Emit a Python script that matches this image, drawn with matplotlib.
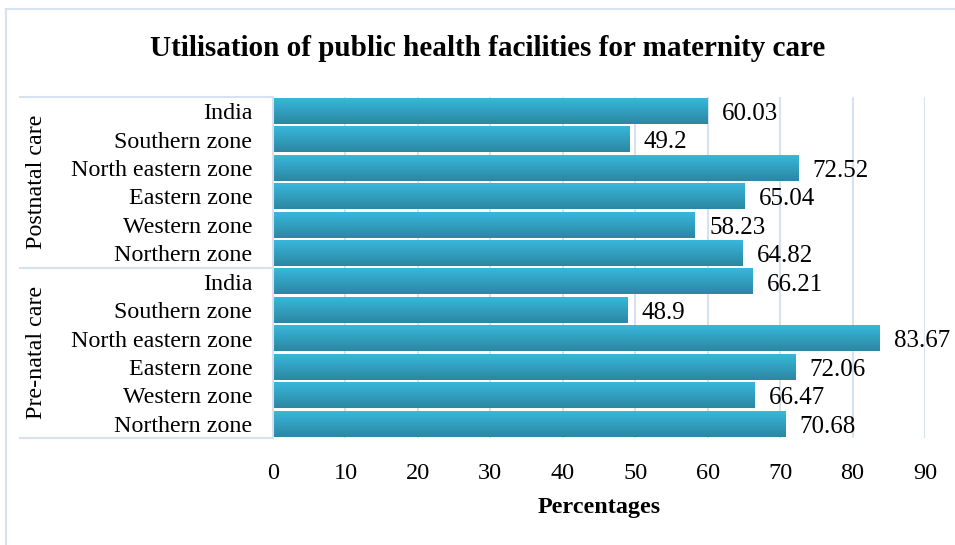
import numpy as np
import matplotlib
matplotlib.use("Agg")
import matplotlib.pyplot as plt
import matplotlib.transforms as mtransforms
from matplotlib.colors import LinearSegmentedColormap

zones = ["Northern zone", "Western zone", "Eastern zone",
         "North eastern zone", "Southern zone", "India"]
pre_natal = [70.68, 66.47, 72.06, 83.67, 48.9, 66.21]
postnatal = [64.82, 58.23, 65.04, 72.52, 49.2, 60.03]
groups = ["Pre-natal care", "Postnatal care"]
x_ticks = [0, 10, 20, 30, 40, 50, 60, 70, 80, 90]

GRID = "#D6E2F0"
SERIF = ["Liberation Serif", "DejaVu Serif"]
plt.rcParams["font.family"] = SERIF

labels = zones + zones
values = pre_natal + postnatal
ypos = np.arange(len(values))

fig = plt.figure(figsize=(9.55, 5.45), dpi=100)
ax = fig.add_axes([273 / 955, 1 - 438 / 545, 652 / 955, 341 / 545])

cmap = LinearSegmentedColormap.from_list("bar", ["#2B87A2", "#38B7DB"])
grad = np.linspace(0, 1, 64).reshape(-1, 1)
bar_h = 0.9
for y, v in zip(ypos, values):
    ax.imshow(grad, cmap=cmap, origin="lower", aspect="auto",
              extent=[0, v, y - bar_h / 2, y + bar_h / 2], zorder=2)
    ax.text(v + 2.0, y - 0.1, f"{v:g}", va="center", ha="left",
            fontsize=18, clip_on=False)

ax.set_xlim(0, 90)
ax.set_ylim(-0.5, len(values) - 0.5)
ax.set_xticks(x_ticks)
ax.set_xticklabels([str(t) for t in x_ticks], fontsize=17.5)
ax.set_yticks(ypos)
ax.set_yticklabels(labels, fontsize=17.3)
ax.tick_params(axis="both", length=0)
ax.tick_params(axis="x", pad=18)
ax.tick_params(axis="y", pad=15)
ax.set_xlabel("Percentages", fontsize=17.4, fontweight="bold", labelpad=9)

ax.grid(axis="x", color=GRID, linewidth=1.5, zorder=0)
ax.set_axisbelow(True)
for side in ["top", "right", "bottom"]:
    ax.spines[side].set_visible(False)
ax.spines["left"].set_color(GRID)
ax.spines["left"].set_linewidth(1.5)

# group brackets on the left
trans = mtransforms.blended_transform_factory(ax.transAxes, ax.transData)
x0 = (20 - 273) / 652
for yb in [-0.5, 5.5, 11.5]:
    ax.plot([x0, 0], [yb, yb], color=GRID, linewidth=1.5,
            transform=trans, clip_on=False)
for i, g in enumerate(groups):
    ax.text((37 - 273) / 652, 2.5 + 6 * i, g, rotation=90, ha="center",
            va="center", fontsize=17.3, transform=trans)

fig.text(488 / 955, 1 - 49 / 545,
         "Utilisation of public health facilities for maternity care",
         ha="center", va="center", fontsize=21, fontweight="bold")

# chart border (top and left visible)
fig.add_artist(plt.Line2D([6 / 955, 1], [1 - 9 / 545, 1 - 9 / 545],
                          color=GRID, linewidth=1.5))
fig.add_artist(plt.Line2D([6 / 955, 6 / 955], [0, 1 - 9 / 545],
                          color=GRID, linewidth=1.5))

fig.savefig("out.png", dpi=100)
plt.close(fig)
